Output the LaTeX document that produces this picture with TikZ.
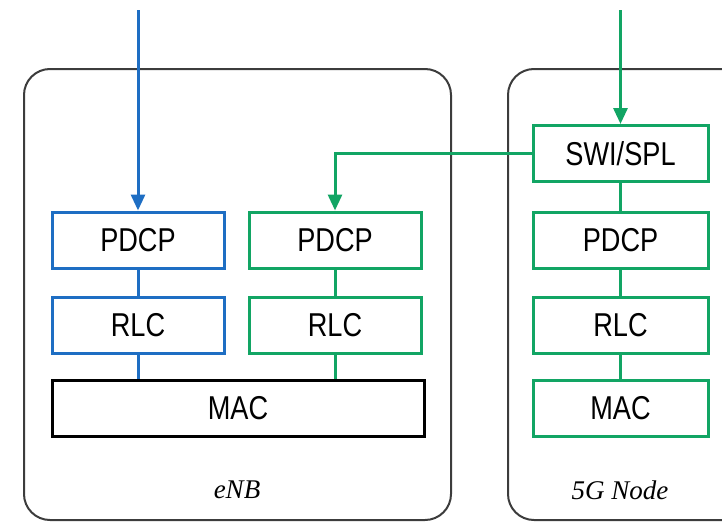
\documentclass[tikz,border=0pt]{standalone}
\usepackage{fontspec}
\setmainfont{Liberation Sans}
\newfontfamily\serifit{Liberation Serif}
\usetikzlibrary{arrows.meta}
\definecolor{lteblue}{RGB}{30,110,195}
\definecolor{nrgreen}{RGB}{18,165,100}
\definecolor{frame}{RGB}{60,60,60}
\newcommand{\tallt}[1]{\scalebox{0.97}[1.18]{#1}}
\begin{document}
\begin{tikzpicture}[x=1pt,y=-1pt,
  layer/.style={draw,line width=3pt,minimum width=172pt,minimum height=56pt,inner sep=0pt,font=\fontsize{28}{28}\selectfont,fill=white},
  bluebox/.style={layer,draw=lteblue},
  greenbox/.style={layer,draw=nrgreen},
  container/.style={draw=frame,line width=2pt,rounded corners=26pt},
  arr/.style={line width=3pt,-{Triangle[length=16pt,width=14pt]}},
  lnk/.style={line width=3pt}]
\useasboundingbox (0,0) rectangle (722,522);
% containers
\draw[container] (24,69) rectangle (451,520);
\draw[container] (508,69) rectangle (760,520);
% eNB stacks
\node[bluebox] (bp) at (138,240) {\tallt{PDCP}};
\node[bluebox] (br) at (138,325) {\tallt{RLC}};
\node[greenbox] (gp) at (335,240) {\tallt{PDCP}};
\node[greenbox] (gr) at (335,325) {\tallt{RLC}};
\node[layer,draw=black,minimum width=372pt] (mac) at (238,408.5) {\tallt{MAC}};
% 5G node stack
\node[greenbox,minimum width=175pt] (sw) at (620.5,153.5) {\tallt{SWI/SPL}};
\node[greenbox,minimum width=175pt] (np) at (620.5,240) {\tallt{PDCP}};
\node[greenbox,minimum width=175pt] (nr) at (620.5,325) {\tallt{RLC}};
\node[greenbox,minimum width=175pt] (nm) at (620.5,408.5) {\tallt{MAC}};
% labels
\node[font=\serifit\itshape\fontsize{27}{27}\selectfont] (enb) at (237,490) {eNB};
\node[font=\serifit\itshape\fontsize{27}{27}\selectfont] (gnb) at (620,490) {5G Node};
% inputs
\coordinate (bin) at (138,10);
\coordinate (gin) at (620.5,10);
\draw[arr,draw=lteblue,color=lteblue] (bin) -- (bp.north);
\draw[arr,draw=nrgreen,color=nrgreen] (gin) -- (sw.north);
\draw[arr,draw=nrgreen,color=nrgreen] (sw.west) -| (gp.north);
% links
\draw[lnk,lteblue] (bp.south) -- (br.north);
\draw[lnk,lteblue] (br.south) -- (br.south |- mac.north);
\draw[lnk,nrgreen] (gp.south) -- (gr.north);
\draw[lnk,nrgreen] (gr.south) -- (gr.south |- mac.north);
\draw[lnk,nrgreen] (sw.south) -- (np.north);
\draw[lnk,nrgreen] (np.south) -- (nr.north);
\draw[lnk,nrgreen] (nr.south) -- (nm.north);
\end{tikzpicture}
\end{document}
